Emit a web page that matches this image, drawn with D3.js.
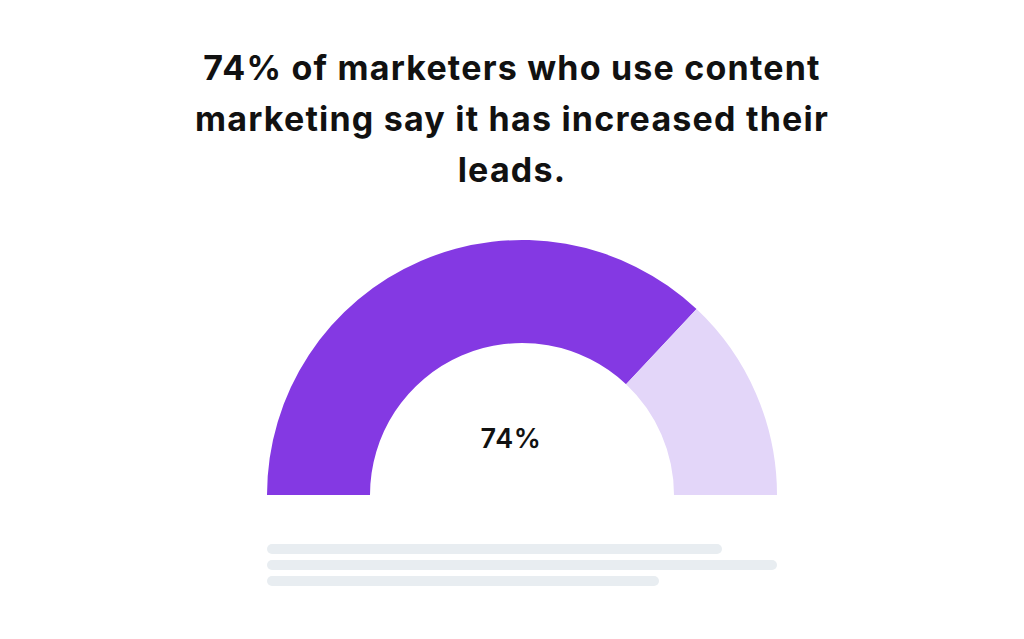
<!DOCTYPE html>
<html><head><meta charset="utf-8">
<script src="https://cdn.jsdelivr.net/npm/d3@7"></script>
<style>body{margin:0;background:#fff}</style>
</head><body>
<svg id="c" width="1024" height="639"></svg>
<script>
const titleLines = ["74% of marketers who use content","marketing say it has increased their","leads."];
const categories = ["Increased leads","Other"];
const values = [74, 26];
const colors = ["#8439E3","#E3D6F9"];
const placeholderWidths = [455, 510, 392];

const svg = d3.select("#c");
const cx = 522, cy = 495, rOuter = 255, rInner = 152;

svg.selectAll("text.t").data(titleLines).join("text")
  .attr("x", 512).attr("y", (d,i)=>80 + i*51)
  .attr("text-anchor","middle").attr("font-family","Inter, 'DejaVu Sans', sans-serif")
  .attr("font-weight",700).attr("font-size",34).attr("letter-spacing",1.2).attr("fill","#111")
  .text(d=>d);

const pie = d3.pie().sort(null).startAngle(-Math.PI/2).endAngle(Math.PI/2);
const arc = d3.arc().innerRadius(rInner).outerRadius(rOuter);
const g = svg.append("g").attr("transform",`translate(${cx},${cy})`);
g.selectAll("path").data(pie(values)).join("path")
  .attr("d",arc).attr("fill",(d,i)=>colors[i]);

g.append("text").attr("x",-11).attr("y",-47).attr("text-anchor","middle")
  .attr("font-family","Inter, 'DejaVu Sans', sans-serif").attr("font-weight",600)
  .attr("font-size",27).attr("letter-spacing",0.6).attr("fill","#111").text(values[0]+"%");

const x = d3.scaleLinear().domain([0,510]).range([267,777]);
svg.selectAll("rect.p").data(placeholderWidths).join("rect")
  .attr("x",x(0)).attr("y",(d,i)=>544+i*16).attr("height",10).attr("rx",5)
  .attr("width",d=>x(d)-x(0)).attr("fill","#E8EDF1");
</script>
</body></html>
